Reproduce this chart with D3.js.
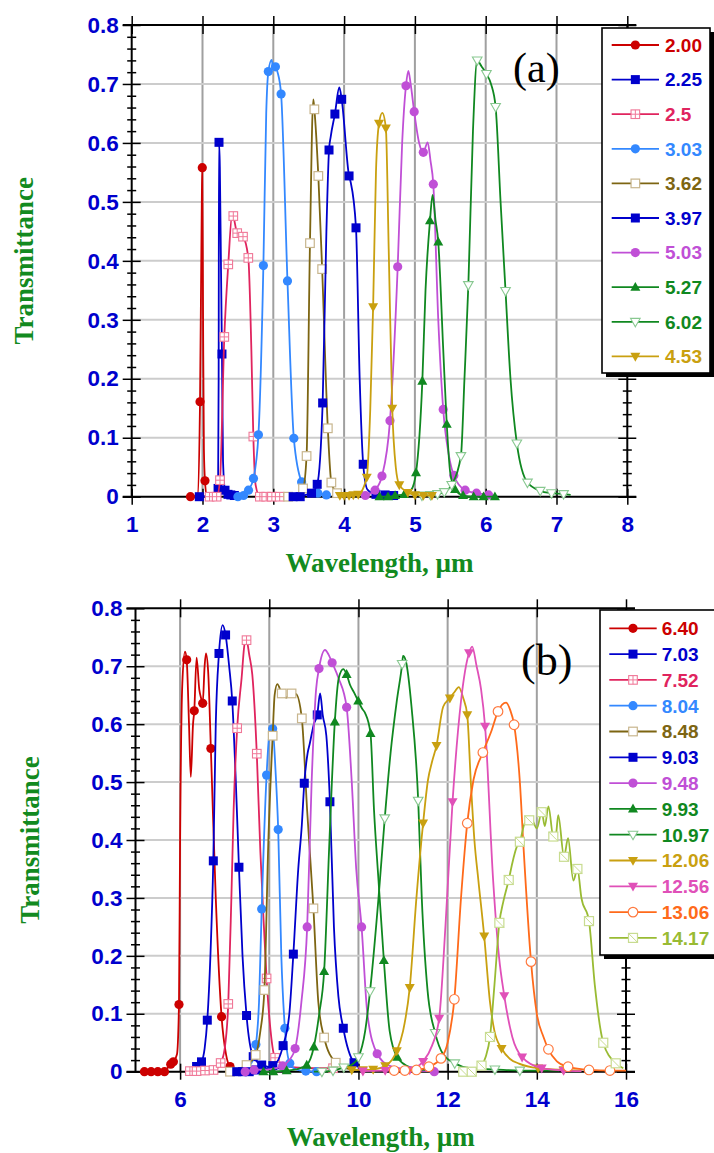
<!DOCTYPE html>
<html><head><meta charset="utf-8">
<script src="https://cdn.jsdelivr.net/npm/d3@7"></script>
<style>body{margin:0;background:#fff}svg{display:block}</style>
</head><body>
<svg id="c" width="714" height="1153"></svg>
<script>
// ---------- DATA: [wavelength, transmittance, marker(1/0)] ----------
// Panel (a)
const s200 = [[1.83,0,1],[1.93,0.002,0],[1.965,0.161,1],[1.99,0.50,0],[1.997,0.558,1],[2.008,0.3,0],[2.02,0.08,0],[2.035,0.027,1],[2.06,0.002,0],[2.12,0,0]];
const s225 = [[1.9,0,0],[1.955,0,1],[2.1,0.002,0],[2.2,0.006,0],[2.22,0.014,1],[2.228,0.2,0],[2.233,0.601,1],[2.245,0.56,0],[2.262,0.38,0],[2.275,0.242,1],[2.29,0.06,0],[2.318,0.011,1],[2.36,0.004,1],[2.4,0.003,1],[2.45,0.002,1],[2.5,0.002,0]];
const s250 = [[2.1,0,1],[2.2,0,1],[2.247,0.028,1],[2.308,0.271,1],[2.364,0.394,1],[2.42,0.48,0],[2.435,0.476,1],[2.49,0.447,1],[2.572,0.441,1],[2.647,0.405,1],[2.69,0.25,0],[2.718,0.102,1],[2.75,0.02,0],[2.81,0,1],[2.9,0,1],[2.98,0,1],[3.09,0,1]];
const s303 = [[2.5,0,1],[2.58,0.002,1],[2.65,0.011,1],[2.72,0.031,1],[2.79,0.105,1],[2.86,0.392,1],[2.9,0.65,0],[2.93,0.721,1],[2.977,0.741,0],[3.0,0.725,0],[3.03,0.729,1],[3.06,0.72,0],[3.11,0.683,1],[3.2,0.366,1],[3.29,0.099,1],[3.4,0.025,1],[3.5,0.01,0],[3.63,0.006,1],[3.75,0.003,1]];
const s362 = [[3.21,0,1],[3.32,0.004,0],[3.42,0.014,1],[3.47,0.069,1],[3.518,0.43,1],[3.565,0.674,0],[3.58,0.657,1],[3.636,0.544,1],[3.69,0.386,1],[3.77,0.116,1],[3.82,0.024,1],[3.9,0.006,1],[4.0,0.002,0]];
const s397 = [[3.28,0,1],[3.38,0,1],[3.46,0.003,0],[3.54,0.006,1],[3.62,0.021,1],[3.697,0.159,1],[3.75,0.45,0],[3.787,0.588,1],[3.81,0.61,0],[3.87,0.649,1],[3.932,0.694,0],[3.966,0.674,1],[4.07,0.544,1],[4.09,0.535,0],[4.168,0.456,1],[4.22,0.2,0],[4.27,0.055,1],[4.33,0.012,0],[4.45,0.004,1],[4.58,0.003,1],[4.7,0.002,1]];
const s503 = [[4.3,0.002,1],[4.437,0.011,1],[4.535,0.035,1],[4.648,0.129,1],[4.757,0.39,1],[4.82,0.6,0],[4.874,0.697,1],[4.907,0.722,0],[4.94,0.7,0],[4.99,0.653,1],[5.06,0.6,0],[5.119,0.584,1],[5.18,0.601,0],[5.22,0.57,0],[5.26,0.53,1],[5.33,0.3,0],[5.40,0.148,1],[5.48,0.07,0],[5.55,0.036,1],[5.71,0.011,1],[5.87,0.006,1],[6.04,0.003,1],[6.1,0.001,0]];
const s527 = [[4.5,0,1],[4.62,0,1],[4.72,0.002,1],[4.85,0.004,1],[4.95,0.012,0],[5.016,0.041,1],[5.105,0.196,1],[5.15,0.35,0],[5.213,0.468,1],[5.25,0.512,0],[5.29,0.47,0],[5.33,0.432,1],[5.4,0.25,0],[5.45,0.123,1],[5.5,0.04,0],[5.567,0.0125,1],[5.68,0.002,1],[5.83,0,1],[5.97,0,1],[6.13,0,1]];
const s602 = [[5.1,0.002,1],[5.22,0.003,1],[5.32,0.0045,1],[5.415,0.008,1],[5.52,0.02,1],[5.65,0.069,1],[5.7,0.2,0],[5.755,0.359,1],[5.82,0.62,0],[5.88,0.74,1],[5.94,0.73,0],[6.01,0.717,1],[6.075,0.70,0],[6.14,0.661,1],[6.21,0.5,0],[6.28,0.349,1],[6.35,0.2,0],[6.44,0.0905,1],[6.59,0.024,1],[6.77,0.010,1],[6.93,0.006,1],[7.1,0.0045,1],[7.2,0.003,0]];
const s453 = [[3.94,0.002,1],[4.0,0.002,1],[4.07,0.002,1],[4.13,0.003,1],[4.2,0.004,1],[4.32,0.033,1],[4.37,0.15,0],[4.41,0.322,1],[4.45,0.55,0],[4.493,0.633,1],[4.54,0.651,0],[4.59,0.625,1],[4.63,0.42,0],[4.68,0.15,1],[4.73,0.05,0],[4.78,0.02,1],[4.9,0.007,1],[5.0,0.003,1],[5.12,0.002,1],[5.24,0.002,1]];
const labelsA = ["2.00","2.25","2.5","3.03","3.62","3.97","5.03","5.27","6.02","4.53"];
const seriesA = [s200,s225,s250,s303,s362,s397,s503,s527,s602,s453];

// Panel (b)
const s640 = [[5.2,0,1],[5.35,0,1],[5.5,0,1],[5.65,0,1],[5.75,0.01,0],[5.79,0.013,1],[5.85,0.017,1],[5.93,0.03,0],[5.975,0.116,1],[6.0,0.4,0],[6.05,0.67,0],[6.11,0.725,0],[6.148,0.711,1],[6.2,0.6,0],[6.24,0.509,0],[6.29,0.6,0],[6.318,0.623,1],[6.37,0.715,0],[6.43,0.66,0],[6.47,0.645,0],[6.507,0.636,1],[6.55,0.70,0],[6.58,0.722,0],[6.63,0.69,0],[6.69,0.558,1],[6.8,0.3,0],[6.93,0.095,1],[7.03,0.03,0],[7.12,0.009,1],[7.3,0.002,0]];
const s703 = [[6.2,0.003,0],[6.37,0.009,1],[6.48,0.017,1],[6.55,0.04,0],[6.61,0.089,1],[6.68,0.2,0],[6.745,0.364,1],[6.8,0.6,0],[6.872,0.722,1],[6.955,0.771,0],[7.02,0.754,1],[7.1,0.7,0],[7.17,0.640,1],[7.25,0.5,0],[7.32,0.353,1],[7.4,0.2,0],[7.49,0.097,1],[7.64,0.026,1],[7.83,0.0115,1],[8.0,0.008,0],[8.3,0.005,0]];
const s752 = [[6.22,0.001,1],[6.37,0.001,1],[6.56,0.002,1],[6.75,0.003,1],[6.91,0.015,1],[7.0,0.04,0],[7.08,0.117,1],[7.15,0.3,0],[7.2,0.45,0],[7.28,0.593,1],[7.38,0.68,0],[7.45,0.74,0],[7.49,0.745,1],[7.55,0.72,0],[7.62,0.685,0],[7.72,0.549,1],[7.8,0.38,0],[7.88,0.25,0],[7.94,0.161,1],[8.03,0.07,0],[8.13,0.024,1],[8.5,0.008,0],[9.0,0.006,0],[9.43,0.006,1]];
const s804 = [[7.4,0.003,0],[7.6,0.015,0],[7.70,0.047,1],[7.77,0.12,0],[7.83,0.281,1],[7.94,0.512,1],[8.0,0.58,0],[8.076,0.592,1],[8.14,0.52,0],[8.2,0.418,1],[8.27,0.2,0],[8.35,0.075,1],[8.46,0.0145,1],[8.6,0.004,0],[8.82,0.001,1],[9.06,0,1],[9.2,0,0]];
const s848 = [[7.12,0,1],[7.3,0.004,0],[7.49,0.0115,1],[7.695,0.029,1],[7.8,0.07,0],[7.89,0.141,1],[7.98,0.4,0],[8.076,0.58,1],[8.12,0.65,0],[8.18,0.669,0],[8.28,0.653,1],[8.39,0.646,0],[8.5,0.653,1],[8.6,0.652,0],[8.73,0.610,1],[8.85,0.45,0],[8.99,0.282,1],[9.1,0.12,0],[9.23,0.059,1],[9.49,0.0155,1],[9.7,0.006,0],[10.0,0.003,0]];
const s903 = [[7.27,0,1],[7.4,0,1],[7.55,0,1],[7.7,0.003,1],[7.9,0.005,0],[8.08,0.0105,1],[8.2,0.02,0],[8.31,0.045,1],[8.45,0.1,0],[8.54,0.203,1],[8.65,0.35,0],[8.73,0.426,0],[8.785,0.498,1],[8.86,0.55,0],[8.91,0.567,0],[9.0,0.6,0],[9.076,0.616,1],[9.14,0.653,0],[9.2,0.615,0],[9.28,0.58,0],[9.36,0.466,1],[9.45,0.25,0],[9.55,0.13,0],[9.66,0.075,1],[9.9,0.0155,1],[10.1,0.005,0]];
const s948 = [[7.46,0,1],[7.66,0.003,1],[8.0,0.004,0],[8.3,0.01,1],[8.45,0.02,0],[8.58,0.040,1],[8.72,0.12,0],[8.85,0.250,1],[8.95,0.5,0],[9.05,0.66,0],[9.115,0.696,1],[9.25,0.728,0],[9.33,0.72,0],[9.41,0.706,1],[9.55,0.68,0],[9.735,0.629,1],[9.85,0.5,0],[9.95,0.35,0],[10.07,0.25,1],[10.2,0.1,0],[10.42,0.031,1],[10.7,0.01,0],[11.2,0.003,0],[11.7,0,1]];
const s993 = [[7.87,0,1],[8.09,0,1],[8.39,0.002,1],[8.6,0.004,0],[8.84,0.0115,1],[9.0,0.043,1],[9.12,0.1,0],[9.23,0.173,1],[9.35,0.4,0],[9.47,0.604,1],[9.56,0.68,0],[9.66,0.695,0],[9.735,0.686,1],[9.81,0.668,0],[9.9,0.655,0],[9.995,0.64,1],[10.08,0.627,0],[10.15,0.619,0],[10.27,0.584,1],[10.35,0.45,0],[10.45,0.33,0],[10.57,0.192,1],[10.7,0.07,0],[10.87,0.025,1],[11.15,0.008,0],[11.5,0.003,0]];
const s1097 = [[9.0,0,0],[9.18,0,1],[9.43,0.002,1],[9.67,0.0075,1],[9.85,0.012,0],[10.0,0.025,1],[10.15,0.07,0],[10.26,0.139,1],[10.45,0.3,0],[10.59,0.4375,1],[10.72,0.55,0],[10.86,0.64,0],[10.98,0.704,1],[11.0,0.718,0],[11.06,0.71,0],[11.19,0.63,0],[11.34,0.468,1],[11.42,0.3,0],[11.55,0.14,0],[11.72,0.067,1],[11.9,0.03,0],[12.16,0.0145,1],[12.5,0.006,0],[13.06,0.004,1],[13.62,0.002,1],[14.5,0.002,0]];
const s1206 = [[9.85,0.003,1],[10.1,0.003,1],[10.33,0.004,1],[10.6,0.01,1],[10.75,0.02,0],[10.86,0.036,1],[11.0,0.07,0],[11.15,0.145,1],[11.3,0.3,0],[11.45,0.429,1],[11.56,0.504,0],[11.65,0.535,0],[11.75,0.563,1],[11.9,0.63,0],[12.05,0.645,1],[12.15,0.655,0],[12.25,0.664,0],[12.35,0.645,0],[12.44,0.616,1],[12.52,0.5,0],[12.6,0.4,0],[12.69,0.33,0],[12.82,0.234,1],[12.95,0.12,0],[13.05,0.07,0],[13.21,0.040,1],[13.4,0.022,0],[13.6,0.014,0],[14.03,0.006,1],[14.6,0.003,1],[15.0,0.002,0]];
const s1256 = [[10.1,0.001,1],[10.6,0.002,1],[10.8,0.002,1],[11.15,0.003,1],[11.3,0.008,0],[11.45,0.0175,1],[11.65,0.045,0],[11.81,0.092,1],[11.95,0.25,0],[12.11,0.466,1],[12.3,0.64,0],[12.48,0.723,1],[12.55,0.734,0],[12.65,0.7,0],[12.75,0.66,0],[12.84,0.596,1],[13.02,0.331,0],[13.15,0.2,0],[13.27,0.131,1],[13.45,0.06,0],[13.67,0.025,1],[14.11,0.006,1],[14.6,0.002,1],[15.0,0.001,0]];
const s1306 = [[10.8,0.002,1],[11.04,0.002,1],[11.3,0.003,1],[11.58,0.0086,1],[11.85,0.023,1],[12.0,0.05,0],[12.15,0.125,1],[12.3,0.3,0],[12.44,0.429,1],[12.58,0.504,0],[12.79,0.551,1],[12.99,0.59,0],[13.13,0.622,1],[13.31,0.637,0],[13.4,0.625,0],[13.49,0.599,1],[13.62,0.5,0],[13.7,0.39,0],[13.87,0.19,1],[14.0,0.1,0],[14.15,0.06,0],[14.26,0.0387,1],[14.45,0.018,0],[14.7,0.0086,1],[15.17,0.003,1],[15.64,0.002,1],[16.0,0.002,0]];
const s1417 = [[12.35,0,1],[12.54,0,1],[12.76,0.0105,1],[12.85,0.025,0],[12.95,0.06,1],[13.05,0.15,0],[13.16,0.257,1],[13.25,0.294,0],[13.37,0.331,1],[13.45,0.36,0],[13.55,0.388,0],[13.62,0.397,1],[13.73,0.429,0],[13.83,0.434,1],[13.88,0.436,0],[14.0,0.42,0],[14.11,0.448,1],[14.18,0.424,0],[14.26,0.458,0],[14.37,0.406,1],[14.43,0.41,0],[14.48,0.443,0],[14.61,0.371,1],[14.7,0.403,0],[14.82,0.33,0],[14.91,0.350,1],[15.0,0.3,0],[15.17,0.26,1],[15.3,0.15,0],[15.49,0.050,1],[15.77,0.0145,1],[15.94,0.006,0]];
const labelsB = ["6.40","7.03","7.52","8.04","8.48","9.03","9.48","9.93","10.97","12.06","12.56","13.06","14.17"];
const seriesB = [s640,s703,s752,s804,s848,s903,s948,s993,s1097,s1206,s1256,s1306,s1417];

const yTicks = [0,0.1,0.2,0.3,0.4,0.5,0.6,0.7,0.8];
const xTicksA = [1,2,3,4,5,6,7,8];
const xTicksB = [6,8,10,12,14,16];

// ---------- STYLES ----------
const RED='#cc0000', BLUE='#0000cc', CRIM='#e0245e', LBLUE='#3388ff', OLIVE='#7d6512',
      ORCH='#c04fd6', GREEN='#108820', GOLD='#c9a010', PINK='#e050b8', ORANGE='#ff6a1a', YG='#99bb33';
const stylesA = [
 {c:RED,m:'circle'},{c:BLUE,m:'square'},{c:CRIM,m:'squareCross',e:'#f07898'},{c:LBLUE,m:'circle'},
 {c:OLIVE,m:'squareOpen',e:'#c8b68e'},{c:BLUE,m:'square'},{c:ORCH,m:'circle'},{c:GREEN,m:'triUp'},
 {c:GREEN,m:'triDownOpen',e:'#88c890'},{c:GOLD,m:'triDown'}];
const stylesB = [
 {c:RED,m:'circle'},{c:BLUE,m:'square'},{c:CRIM,m:'squareCross',e:'#f07898'},{c:LBLUE,m:'circle'},
 {c:OLIVE,m:'squareOpen',e:'#c8b68e'},{c:BLUE,m:'square'},{c:ORCH,m:'circle'},{c:GREEN,m:'triUp'},
 {c:GREEN,m:'triDownOpen',e:'#88c890'},{c:GOLD,m:'triDown'},{c:PINK,m:'triDown'},
 {c:ORANGE,m:'circleOpen',e:'#ff7a40'},{c:YG,m:'squareDiag',e:'#c8dc90'}];

const svg = d3.select('#c');
const TICKBLUE = '#0000cd', TITLEGREEN = '#128a20';

function marker(g, st, px, py) {
  const e = st.e || st.c;
  switch (st.m) {
    case 'circle': g.append('circle').attr('cx',px).attr('cy',py).attr('r',4.6).attr('fill',st.c); break;
    case 'circleOpen': g.append('circle').attr('cx',px).attr('cy',py).attr('r',4.8).attr('fill','#fff').attr('stroke',e).attr('stroke-width',1.2); break;
    case 'square': g.append('rect').attr('x',px-4.5).attr('y',py-4.5).attr('width',9).attr('height',9).attr('fill',st.c); break;
    case 'squareOpen': g.append('rect').attr('x',px-4.3).attr('y',py-4.3).attr('width',8.6).attr('height',8.6).attr('fill','#fff').attr('stroke',e).attr('stroke-width',1.2); break;
    case 'squareCross':
      g.append('rect').attr('x',px-4.3).attr('y',py-4.3).attr('width',8.6).attr('height',8.6).attr('fill','#fff').attr('stroke',e).attr('stroke-width',1.1);
      g.append('path').attr('d',`M${px-4.3},${py}H${px+4.3}M${px},${py-4.3}V${py+4.3}`).attr('stroke',e).attr('stroke-width',1).attr('fill','none'); break;
    case 'squareDiag':
      g.append('rect').attr('x',px-4.5).attr('y',py-4.5).attr('width',9).attr('height',9).attr('fill','#fff').attr('stroke',e).attr('stroke-width',1.2);
      g.append('path').attr('d',`M${px-4.5},${py-4.5}L${px+4.5},${py+4.5}`).attr('stroke',e).attr('stroke-width',1).attr('fill','none'); break;
    case 'triUp': g.append('path').attr('d',`M${px},${py-5.3}L${px+5},${py+3.6}L${px-5},${py+3.6}Z`).attr('fill',st.c); break;
    case 'triDown': g.append('path').attr('d',`M${px},${py+5.3}L${px+5},${py-3.6}L${px-5},${py-3.6}Z`).attr('fill',st.c); break;
    case 'triDownOpen': g.append('path').attr('d',`M${px},${py+5}L${px+4.8},${py-3.4}L${px-4.8},${py-3.4}Z`).attr('fill','#fff').attr('stroke',e).attr('stroke-width',1.1); break;
  }
}

function panel(cfg) {
  const x = d3.scaleLinear().domain(cfg.xdom).range([cfg.left, cfg.right]);
  const y = d3.scaleLinear().domain([0,0.8]).range([cfg.bottom, cfg.top]);
  const g = svg.append('g');

  // grid
  g.append('g').selectAll('line').data(cfg.xticks.filter(v => v > cfg.xdom[0] && v < cfg.xdom[1]))
    .join('line').attr('x1',d=>x(d)).attr('x2',d=>x(d)).attr('y1',cfg.top).attr('y2',cfg.bottom)
    .attr('stroke','#a0a0a0').attr('stroke-width',2);
  g.append('g').selectAll('line').data(yTicks.filter(v => v > 0 && v < 0.8))
    .join('line').attr('x1',cfg.left).attr('x2',cfg.right).attr('y1',d=>y(d)).attr('y2',d=>y(d))
    .attr('stroke','#cccccc').attr('stroke-width',2);

  const minor = d3.range(0, 41).map(i => i*0.02);
  const isMajor = d => Math.abs(d*10 - Math.round(d*10)) < 1e-6;
  const fmt = d => d === 0 ? '0' : d3.format('.1f')(d);

  // left axis
  const la = g.append('g').attr('transform',`translate(${cfg.left},0)`)
    .call(d3.axisLeft(y).tickValues(minor).tickFormat(d => isMajor(d) ? fmt(d) : ''));
  la.select('.domain').remove();
  la.selectAll('.tick line').attr('x1', d => isMajor(d) ? -9 : -4.5).attr('x2', d => isMajor(d) ? 9 : 4.5)
    .attr('stroke','#000').attr('stroke-width',1.5);
  la.selectAll('.tick text').attr('x',-13).attr('fill',TICKBLUE).attr('font-family','Liberation Sans, Arial, sans-serif')
    .attr('font-weight','bold').attr('font-size',22.5);

  // right axis
  const ra = g.append('g').attr('transform',`translate(${cfg.right},0)`)
    .call(d3.axisRight(y).tickValues(minor).tickFormat(''));
  ra.select('.domain').remove();
  ra.selectAll('.tick line').attr('x1', d => isMajor(d) ? -9 : -4.5).attr('x2', d => isMajor(d) ? 9 : 4.5)
    .attr('stroke','#000').attr('stroke-width',1.5);

  // bottom axis
  const ba = g.append('g').attr('transform',`translate(0,${cfg.bottom})`)
    .call(d3.axisBottom(x).tickValues(cfg.xticks).tickFormat(d3.format('d')));
  ba.select('.domain').remove();
  ba.selectAll('.tick line').attr('y1',-8).attr('y2',8).attr('stroke','#000').attr('stroke-width',1.5);
  ba.selectAll('.tick text').attr('y',35).attr('dy',0).attr('fill',TICKBLUE).attr('font-family','Liberation Sans, Arial, sans-serif')
    .attr('font-weight','bold').attr('font-size',22.5);

  // top axis
  const ta = g.append('g').attr('transform',`translate(0,${cfg.top})`)
    .call(d3.axisTop(x).tickValues(cfg.xticks).tickFormat(''));
  ta.select('.domain').remove();
  ta.selectAll('.tick line').attr('y1',-9).attr('y2',9).attr('stroke','#000').attr('stroke-width',1.5);

  // frame lines
  g.append('line').attr('x1',cfg.left).attr('x2',cfg.left).attr('y1',cfg.top).attr('y2',cfg.bottom).attr('stroke','#000').attr('stroke-width',2);
  g.append('line').attr('x1',cfg.right).attr('x2',cfg.right).attr('y1',cfg.top).attr('y2',cfg.bottom).attr('stroke','#000').attr('stroke-width',2);
  g.append('line').attr('x1',cfg.left-9).attr('x2',cfg.right+9).attr('y1',cfg.top).attr('y2',cfg.top).attr('stroke','#000').attr('stroke-width',2);
  g.append('line').attr('x1',cfg.left-9).attr('x2',cfg.right+9).attr('y1',cfg.bottom).attr('y2',cfg.bottom).attr('stroke','#000').attr('stroke-width',2);

  // series
  const line = d3.line().x(d => x(d[0])).y(d => y(d[1])).curve(d3.curveMonotoneX);
  cfg.series.forEach((s, i) => {
    const st = cfg.styles[i];
    const sg = g.append('g');
    sg.append('path').attr('d', line(s)).attr('fill','none').attr('stroke',st.c).attr('stroke-width',1.8);
    s.filter(d => d[2]).forEach(d => marker(sg, st, x(d[0]), y(d[1])));
  });

  // axis titles
  g.append('text').attr('x',(cfg.left+cfg.right)/2).attr('y',cfg.xTitleY).attr('text-anchor','middle')
    .attr('font-family','Liberation Serif, Times New Roman, serif').attr('font-weight','bold').attr('font-size',27)
    .attr('fill',TITLEGREEN).text('Wavelength, µm');
  g.append('text').attr('transform',`translate(${cfg.yTitleX},${(cfg.top+cfg.bottom)/2}) rotate(-90)`).attr('text-anchor','middle')
    .attr('font-family','Liberation Serif, Times New Roman, serif').attr('font-weight','bold').attr('font-size',27)
    .attr('fill',TITLEGREEN).text('Transmittance');

  // panel label
  g.append('text').attr('x',cfg.tag[0]).attr('y',cfg.tag[1]).attr('font-family','Liberation Serif, Times New Roman, serif')
    .attr('font-size',cfg.tag[2]).attr('fill','#000').text(cfg.tagText);

  // legend
  const L = cfg.legend;
  const lg = g.append('g');
  lg.append('rect').attr('x',L.x+4).attr('y',L.y+4).attr('width',L.w).attr('height',L.h).attr('fill','#000');
  lg.append('rect').attr('x',L.x).attr('y',L.y).attr('width',L.w).attr('height',L.h).attr('fill','#fff').attr('stroke','#000').attr('stroke-width',1.6);
  cfg.labels.forEach((lab, i) => {
    const st = cfg.styles[i];
    const yy = L.row0 + i*L.step;
    lg.append('line').attr('x1',L.lx0).attr('x2',L.lx1).attr('y1',yy).attr('y2',yy).attr('stroke',st.c).attr('stroke-width',1.8);
    marker(lg, st, (L.lx0+L.lx1)/2, yy);
    lg.append('text').attr('x',L.tx).attr('y',yy).attr('dy','0.36em').attr('fill',st.c)
      .attr('font-family','Liberation Sans, Arial, sans-serif').attr('font-weight','bold').attr('font-size',19).text(lab);
  });
}

panel({xdom:[1,8], xticks:xTicksA, left:131.7, right:627.3, top:25, bottom:496.7,
  series:seriesA, styles:stylesA, labels:labelsA, xTitleY:572, yTitleX:33,
  tag:[513,82,42], tagText:'(a)',
  legend:{x:602, y:28, w:108, h:345, row0:45, step:34.6, lx0:611.7, lx1:659, tx:665}});
panel({xdom:[5,16], xticks:xTicksB, left:135.5, right:626, top:608.3, bottom:1071.7,
  series:seriesB, styles:stylesB, labels:labelsB, xTitleY:1146, yTitleX:39,
  tag:[521,675,44], tagText:'(b)',
  legend:{x:600, y:610, w:120, h:345, row0:628.3, step:25.8, lx0:609.3, lx1:656.7, tx:661.7}});
</script>
</body></html>
